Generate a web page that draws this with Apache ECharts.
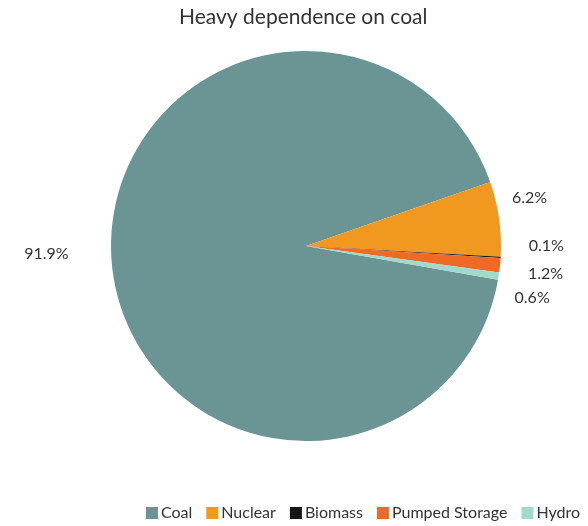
<!DOCTYPE html>
<html>
<head>
<meta charset="utf-8">
<script src="https://cdn.jsdelivr.net/npm/echarts@6/dist/echarts.min.js"></script>
<style>
  html, body { margin: 0; padding: 0; background: #fff; }
  #chart { width: 588px; height: 526px; }
</style>
</head>
<body>
<div id="chart"></div>
<script>
// Electricity generation mix (share of total, %)
const sources = ['Coal', 'Nuclear', 'Biomass', 'Pumped Storage', 'Hydro'];
const shares = [91.9, 6.2, 0.1, 1.2, 0.6];
const colors = ['#6a9594', '#f09820', '#151515', '#ee6a25', '#9fdacb'];
// nudges that keep the crowded small-slice labels apart
const labelNudge = [[-22, -8], [-8, -20], [7, -12], [7, 8], [-5, 20]];

const chart = echarts.init(document.getElementById('chart'), null, { renderer: 'canvas' });

const fontFamily = 'Lato, "Open Sans", sans-serif';

chart.setOption({
  backgroundColor: '#ffffff',
  color: colors,
  title: {
    text: 'Heavy dependence on coal',
    left: 174,
    top: 2,
    textStyle: { fontFamily, fontSize: 21, fontWeight: 'normal', color: '#333' }
  },
  legend: {
    data: sources,
    right: 8,
    top: 505,
    padding: 0,
    itemWidth: 12,
    itemHeight: 12,
    itemGap: 14,
    icon: 'rect',
    textStyle: { fontFamily, fontSize: 16, color: '#333', padding: [0, 0, 0, -2] }
  },
  series: [{
    type: 'pie',
    center: [306, 246],
    radius: 195,
    startAngle: 350,
    clockwise: true,
    avoidLabelOverlap: false,
    data: sources.map((name, i) => ({ name, value: shares[i] })),
    label: {
      show: true,
      position: 'outside',
      formatter: p => p.value.toFixed(1) + '%',
      fontFamily,
      fontSize: 16,
      color: '#333'
    },
    labelLine: { show: false, length: 8, length2: 8 },
    labelLayout: p => ({
      dx: labelNudge[p.dataIndex][0],
      dy: labelNudge[p.dataIndex][1],
      hideOverlap: false
    }),
    emphasis: { disabled: true }
  }]
});
</script>
</body>
</html>
